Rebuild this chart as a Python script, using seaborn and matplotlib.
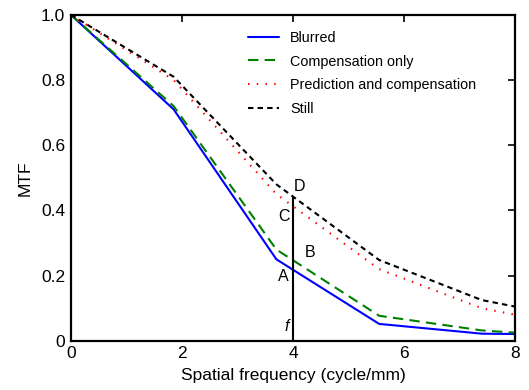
import numpy as np
import pandas as pd
import matplotlib
matplotlib.use("Agg")
import matplotlib.pyplot as plt
import seaborn as sns

sns.set_theme(style="white")
plt.rcParams["font.family"] = ["Liberation Sans", "DejaVu Sans"]
plt.rcParams["text.color"] = "black"
plt.rcParams["axes.labelcolor"] = "black"

# spatial frequency samples (cycle/mm)
freq = [0, 1.85, 3.7, 5.55, 7.4, 8.0]

mtf_blurred = [1.0, 0.71, 0.25, 0.052, 0.022, 0.021]
mtf_comp = [1.0, 0.72, 0.28, 0.077, 0.032, 0.025]
mtf_pred_comp = [1.0, 0.80, 0.45, 0.22, 0.10, 0.08]
mtf_still = [1.0, 0.81, 0.48, 0.248, 0.125, 0.105]

f_mark = 4.0
d_value = 0.44

series = [
    ("Blurred", mtf_blurred, "#0000ff", "-"),
    ("Compensation only", mtf_comp, "#008000", (0, (5, 3))),
    ("Prediction and compensation", mtf_pred_comp, "#ff0000", (0, (0.7, 3.5))),
    ("Still", mtf_still, "#000000", (0, (2.6, 2))),
]

fig = plt.figure(figsize=(5.29, 3.90), dpi=100)
ax = fig.add_axes([0.134, 0.126, 0.840, 0.836])

for name, vals, color, ls in series:
    df = pd.DataFrame({"freq": freq, "mtf": vals})
    sns.lineplot(data=df, x="freq", y="mtf", ax=ax, color=color, linestyle=ls,
                 linewidth=1.5, label=name)

# marker line at f
ax.plot([f_mark, f_mark], [0, d_value], color="black", linewidth=1.5)

ax.text(4.02, 0.472, "D", fontsize=11.5, ha="left", va="center")
ax.text(3.84, 0.38, "C", fontsize=11.5, ha="center", va="center")
ax.text(4.31, 0.27, "B", fontsize=11.5, ha="center", va="center")
ax.text(3.83, 0.196, "A", fontsize=11.5, ha="center", va="center")
ax.text(3.89, 0.045, "f", fontsize=11.5, ha="center", va="center", style="italic")

ax.set_xlim(0, 8)
ax.set_ylim(0, 1.0)
ax.set_xticks([0, 2, 4, 6, 8])
ax.set_xticklabels(["0", "2", "4", "6", "8"])
ax.set_yticks([0, 0.2, 0.4, 0.6, 0.8, 1.0])
ax.set_yticklabels(["0", "0.2", "0.4", "0.6", "0.8", "1.0"])
ax.tick_params(direction="in", length=5, width=1.2, top=True, right=True,
               labelsize=12.5, colors="black", pad=4)
for s in ax.spines.values():
    s.set_linewidth(1.6)
    s.set_color("black")

ax.set_xlabel("Spatial frequency (cycle/mm)", fontsize=12.5, labelpad=5)
ax.set_ylabel("MTF", fontsize=12.5, labelpad=6)

ax.legend(loc="upper left", bbox_to_anchor=(0.386, 0.969), borderaxespad=0,
          frameon=False, fontsize=10.4, handlelength=2.1, handletextpad=0.8,
          labelspacing=0.68)

fig.savefig("out.png", dpi=100)
